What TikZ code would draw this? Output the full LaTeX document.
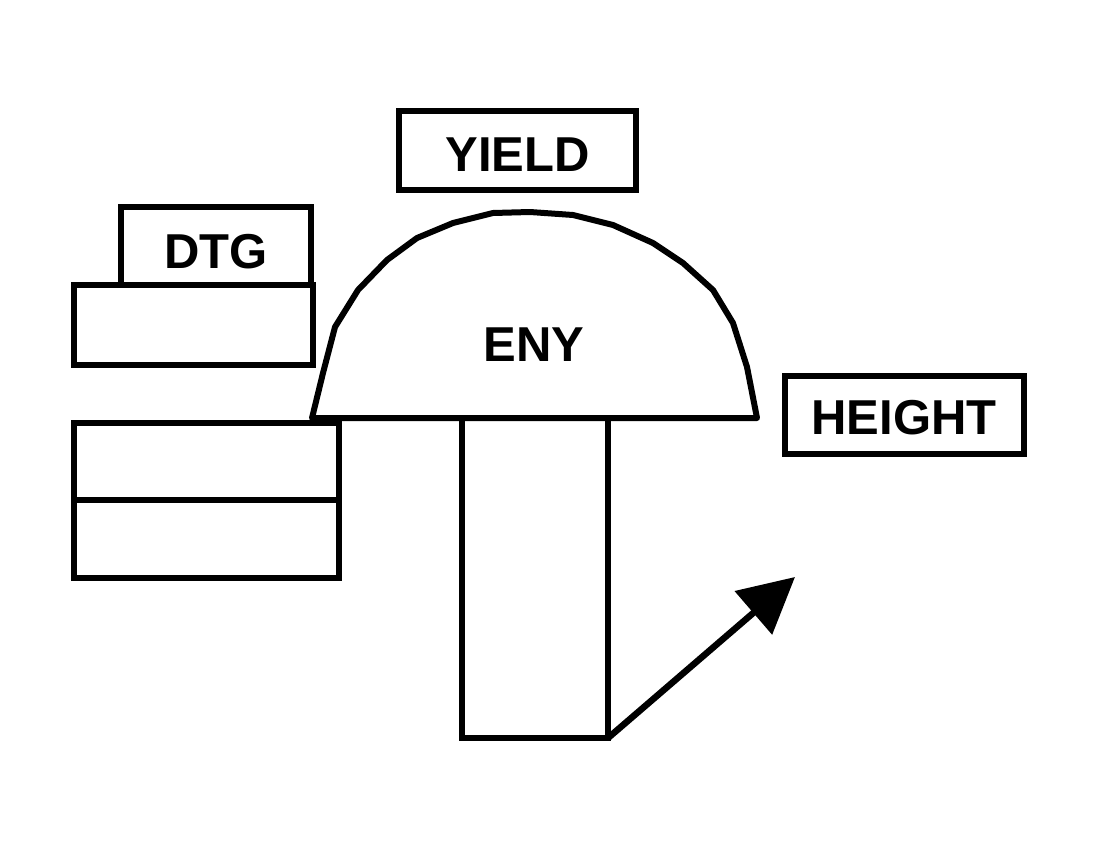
\documentclass[tikz,border=0pt]{standalone}
\usepackage{fontspec}
\setmainfont{Liberation Sans}
\usetikzlibrary{arrows.meta}
\begin{document}
\begin{tikzpicture}[x=1pt,y=-1pt,
  box/.style={draw=black,line width=6pt,fill=white,rectangle,inner sep=0pt,outer sep=0pt},
  lbl/.style={font=\fontsize{49}{58}\selectfont\bfseries},
  line/.style={line width=6pt,line join=round}]
\fill[white] (0,0) rectangle (1099,851);
\useasboundingbox (0,0) rectangle (1099,851);
% DTG box (partly hidden behind the box below)
\node[box,minimum width=190pt,minimum height=90pt] (dtg) at (216,252) {};
\node[lbl] (dtgt) at (216,252) {DTG};
\node[box,minimum width=239pt,minimum height=80pt] (ba) at (193.5,325) {};
\node[box,minimum width=265pt,minimum height=77pt] (bb) at (206.5,461.5) {};
\node[box,minimum width=265pt,minimum height=78pt] (bc) at (206.5,539) {};
% YIELD and HEIGHT
\node[box,minimum width=237pt,minimum height=79pt,label={[lbl,yshift=-4pt]center:YIELD}] (yield) at (517.5,150.5) {};
\node[box,minimum width=239pt,minimum height=78pt,label={[lbl,yshift=-3pt]center:HEIGHT}] (height) at (904,414.5) {};
% stem
\node[box,minimum width=146pt,minimum height=320pt] (stem) at (535,578) {};
% dome
\draw[line,fill=white] (312,418) -- (323,373) -- (335,327) -- (358,290) -- (387,260) -- (417,238)
  -- (453,223) -- (493,213) -- (530,212) -- (573,215) -- (613,225) -- (653,243) -- (683,263)
  -- (713,290) -- (733,323) -- (747,367) -- (757,418) -- cycle;
\node[lbl] (eny) at (534,345) {ENY};
% arrow
\coordinate (tip) at (795,577);
\draw[line width=6.5pt,-{Triangle[length=55pt,width=56pt]}] (stem.south east) -- (tip);
\end{tikzpicture}
\end{document}
